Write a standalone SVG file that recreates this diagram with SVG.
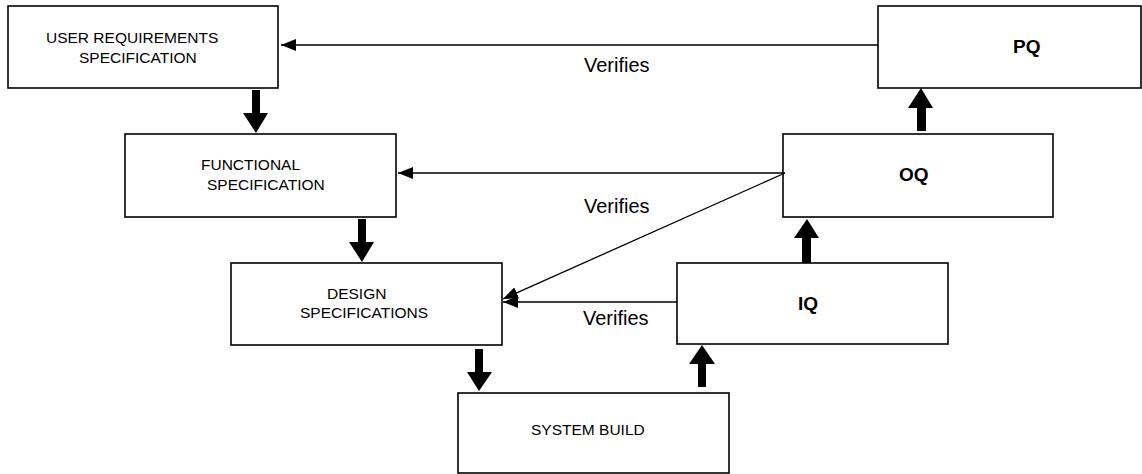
<svg xmlns="http://www.w3.org/2000/svg" width="1142" height="474" viewBox="0 0 1142 474">
<style>
.box{fill:#fff;stroke:#000;stroke-width:1.6}
.t{font-family:"Liberation Sans",Arial,sans-serif;font-size:15.5px;fill:#000}
.b{font-family:"Liberation Sans",Arial,sans-serif;font-size:19px;font-weight:bold;fill:#000}
.v{font-family:"Liberation Sans",Arial,sans-serif;font-size:20px;fill:#000}
.thin{fill:none;stroke:#000;stroke-width:1.3;marker-end:url(#ah)}
.thick{fill:#000;stroke:none}
</style>
<defs>
<marker id="ah" viewBox="0 0 15 12" refX="15" refY="6" markerWidth="15" markerHeight="12" markerUnits="userSpaceOnUse" orient="auto">
<path d="M0,0 L15,6 L0,12 z" fill="#000"/>
</marker>
</defs>
<rect width="1142" height="474" fill="#fff"/>
<g id="urs">
<rect class="box" x="8" y="6" width="270" height="82"/>
<text class="t" x="46" y="43">USER REQUIREMENTS</text>
<text class="t" x="79" y="63">SPECIFICATION</text>
</g>
<g id="fs">
<rect class="box" x="125" y="134" width="271" height="83"/>
<text class="t" x="201" y="170">FUNCTIONAL</text>
<text class="t" x="207" y="190">SPECIFICATION</text>
</g>
<g id="ds">
<rect class="box" x="231" y="263" width="271" height="82"/>
<text class="t" x="327" y="299">DESIGN</text>
<text class="t" x="300" y="318">SPECIFICATIONS</text>
</g>
<g id="sb">
<rect class="box" x="458" y="393" width="271" height="80"/>
<text class="t" x="531" y="435">SYSTEM BUILD</text>
</g>
<g id="iq">
<rect class="box" x="677" y="263" width="271" height="81"/>
<text class="b" x="798" y="310">IQ</text>
</g>
<g id="oq">
<rect class="box" x="783" y="134" width="270" height="83"/>
<text class="b" x="899" y="181">OQ</text>
</g>
<g id="pq">
<rect class="box" x="878" y="6" width="263" height="82"/>
<text class="b" x="1013" y="53">PQ</text>
</g>
<g id="connectors">
<line class="thin" x1="878" y1="45" x2="281" y2="45"/>
<line class="thin" x1="785" y1="173" x2="398" y2="173"/>
<line class="thin" x1="785" y1="173" x2="503" y2="299"/>
<line class="thin" x1="677" y1="302" x2="503" y2="302"/>
<polygon class="thick" points="252,90 260,90 260,113 268,113 256,133 243,113 252,113"/>
<polygon class="thick" points="358,219 366,219 366,242 374,242 362,262 349,242 358,242"/>
<polygon class="thick" points="475,349 483,349 483,372 492,372 479,391 467,372 475,372"/>
<polygon class="thick" points="698,387 706,387 706,364 715,364 702,345 689,364 698,364"/>
<polygon class="thick" points="802,263 811,263 811,238 819,238 807,219 794,238 802,238"/>
<polygon class="thick" points="917,131 926,131 926,108 933,108 921,88 908,108 917,108"/>
</g>
<g id="labels">
<text class="v" x="584" y="72">Verifies</text>
<text class="v" x="584" y="213">Verifies</text>
<text class="v" x="583" y="325">Verifies</text>
</g>
</svg>
